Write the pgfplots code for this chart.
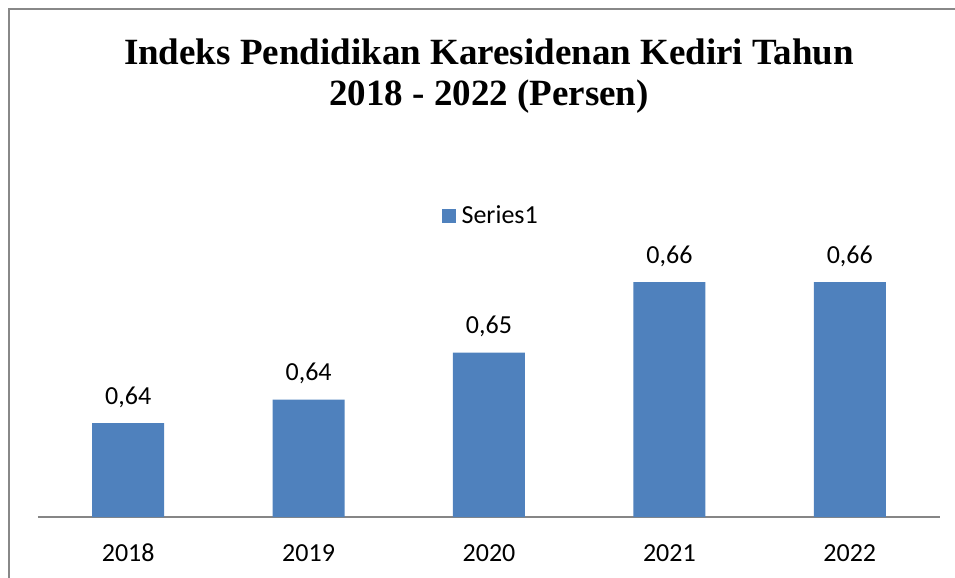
\documentclass[border=0pt]{standalone}
\usepackage{pgfplots}
\pgfplotsset{compat=1.18}
\usepackage{fontspec}
\setmainfont{Carlito}
\newfontfamily\titlefont{Liberation Serif}
\definecolor{barblue}{HTML}{4F81BD}
\definecolor{axgray}{HTML}{868686}
\definecolor{framegray}{HTML}{888888}
\begin{document}
\begin{tikzpicture}
\useasboundingbox (0pt,0pt) rectangle (477.5pt,-289pt);
\draw[framegray, line width=1pt] (4.25pt,-289pt) -- (4.25pt,-4.25pt) -- (477.5pt,-4.25pt);
\node[font=\titlefont\bfseries\fontsize{18.5}{20.5}\selectfont, align=center] at (244.5pt,-38pt) {Indeks Pendidikan Karesidenan Kediri Tahun\\2018 - 2022 (Persen)};
\begin{axis}[
  at={(19pt,-258.5pt)}, anchor=south west,
  scale only axis, width=451pt, height=176.25pt,
  xmin=-0.5, xmax=4.5, ymin=0.62, ymax=0.68,
  axis y line=none, axis x line=bottom,
  x axis line style={-, axgray, line width=1pt},
  xtick={0,1,2,3,4}, xticklabels={2018,2019,2020,2021,2022},
  major tick length=0pt,
  xticklabel style={font=\fontsize{13}{15}\selectfont, anchor=base, yshift=-22pt},
  /pgf/number format/.cd, fixed, fixed zerofill, precision=2, use comma, assume math mode=true,
  /pgfplots/.cd,
  ybar, bar width=36pt,
  nodes near coords,
  nodes near coords style={font=\fontsize{13}{15}\selectfont, black, anchor=base, yshift=9.5pt},
  legend style={at={(0.503,0.854)}, anchor=center, draw=none, font=\fontsize{13}{15}\selectfont},
  legend image code/.code={\fill[#1] (0pt,-3.5pt) rectangle (7pt,3.5pt);},
]
\addplot[fill=barblue, draw=none] coordinates {(0,0.636) (1,0.640) (2,0.648) (3,0.660) (4,0.660)};
\addlegendentry{\hspace{1pt}Series1}
\end{axis}
\end{tikzpicture}
\end{document}
